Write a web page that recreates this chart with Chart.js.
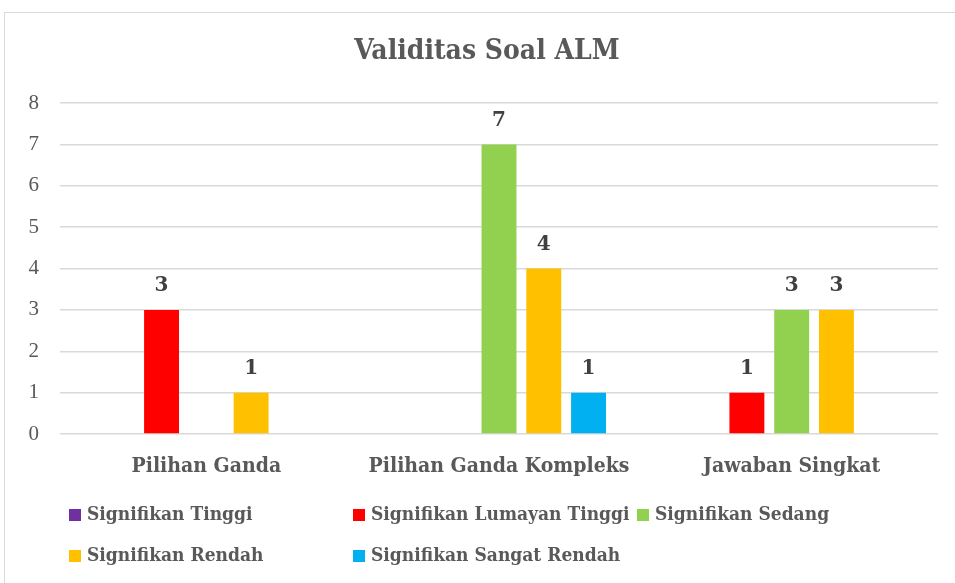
<!DOCTYPE html>
<html>
<head>
<meta charset="utf-8">
<script src="https://cdn.jsdelivr.net/npm/chart.js@4.4.1/dist/chart.umd.min.js"></script>
<style>
  html, body { margin: 0; padding: 0; background: #fff; }
  #wrap { position: relative; width: 955px; height: 583px; overflow: hidden; }
  #frame { position: absolute; left: 4px; top: 12px; width: 1000px; height: 1000px; border: 1px solid #d9d9d9; box-sizing: border-box; }
  #c { position: absolute; left: 0; top: 0; }
</style>
</head>
<body>
<div id="wrap">
  <div id="frame"></div>
  <canvas id="c" width="955" height="583"></canvas>
</div>
<script>
(function(){
  'use strict';

  const chartTitle = 'Validitas Soal ALM';
  const categories = ['Pilihan Ganda', 'Pilihan Ganda Kompleks', 'Jawaban Singkat'];
  const seriesNames = ['Signifikan Tinggi', 'Signifikan Lumayan Tinggi', 'Signifikan Sedang', 'Signifikan Rendah', 'Signifikan Sangat Rendah'];
  const seriesColors = ['#7030a0', '#ff0000', '#92d050', '#ffc000', '#00b0f0'];
  const tinggi        = [0, 0, 0];
  const lumayanTinggi = [3, 0, 1];
  const sedang        = [0, 7, 3];
  const rendah        = [1, 4, 3];
  const sangatRendah  = [0, 1, 0];
  const yTicks = [0, 1, 2, 3, 4, 5, 6, 7, 8];

  const seriesValues = [tinggi, lumayanTinggi, sedang, rendah, sangatRendah];
  const condensed = '"DejaVu Serif Condensed", "DejaVu Serif", serif';

  // title, value labels and the two-row legend are drawn here
  const extras = {
    id: 'extras',
    afterDatasetsDraw(chart) {
      const ctx = chart.ctx;
      ctx.save();
      ctx.fillStyle = '#404040';
      ctx.font = 'bold 20px "DejaVu Serif", serif';
      ctx.textAlign = 'center';
      ctx.textBaseline = 'middle';
      chart.data.datasets.forEach((ds, i) => {
        const meta = chart.getDatasetMeta(i);
        meta.data.forEach((bar, j) => {
          const v = ds.data[j];
          if (!v) return;
          ctx.fillText(String(v), bar.x, bar.y - 24);
        });
      });
      ctx.restore();
    },
    afterDraw(chart) {
      const ctx = chart.ctx;
      ctx.save();
      ctx.fillStyle = '#595959';
      ctx.font = 'bold 28px ' + condensed;
      ctx.textAlign = 'center';
      ctx.textBaseline = 'middle';
      ctx.fillText(chartTitle, 487, 52);

      ctx.font = 'bold 19px ' + condensed;
      ctx.textAlign = 'left';
      const colW = 284, startX = 69, rows = [515, 556];
      seriesNames.forEach((name, i) => {
        const col = i < 3 ? i : i - 3;
        const y = rows[i < 3 ? 0 : 1];
        const x = startX + col * colW;
        ctx.fillStyle = seriesColors[i];
        ctx.fillRect(x, y - 6, 12, 12);
        ctx.fillStyle = '#595959';
        ctx.fillText(name, x + 18, y);
      });
      ctx.restore();
    }
  };

  const ctx = document.getElementById('c').getContext('2d');
  new Chart(ctx, {
    type: 'bar',
    data: {
      labels: categories,
      datasets: seriesNames.map((name, i) => ({
        label: name,
        data: seriesValues[i],
        backgroundColor: seriesColors[i],
        borderWidth: 0,
        barPercentage: 0.78,
        categoryPercentage: 0.765
      }))
    },
    options: {
      responsive: false,
      animation: false,
      layout: { padding: { top: 103, right: 17, left: 0, bottom: 0 } },
      plugins: {
        legend: { display: false },
        title: { display: false },
        tooltip: { enabled: false }
      },
      scales: {
        x: {
          grid: { display: false, drawTicks: false },
          border: { display: false },
          afterFit: (s) => { s.height = 149; },
          ticks: {
            color: '#595959',
            padding: 20,
            font: { family: condensed, size: 21, weight: 'bold' }
          }
        },
        y: {
          min: 0,
          max: 8,
          afterFit: (s) => { s.width = 60; },
          afterBuildTicks: (s) => { s.ticks = yTicks.map(v => ({ value: v })); },
          grid: { color: '#d9d9d9', lineWidth: 1.5, drawTicks: false },
          border: { display: false },
          ticks: {
            color: '#595959',
            padding: 21,
            font: { family: '"Liberation Serif", serif', size: 21 }
          }
        }
      }
    },
    plugins: [extras]
  });
})();
</script>
</body>
</html>
